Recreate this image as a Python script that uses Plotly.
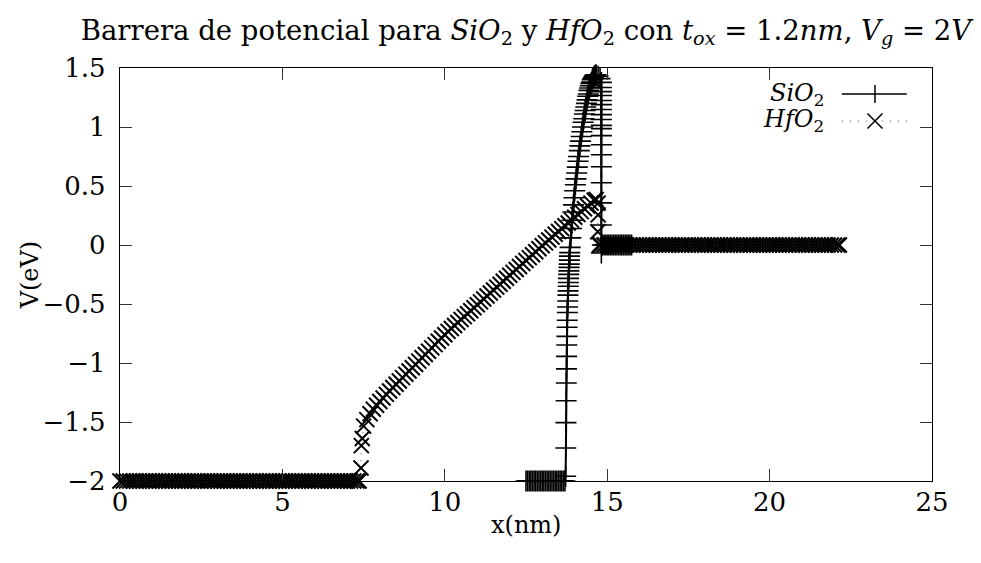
import plotly.graph_objects as go

# ---------------- data ----------------
# SiO2 : substrate plateau, steep band bending, oxide rise, drop at gate, gate plateau
sio2_x_sub = [12.5, 12.55, 12.6, 12.65, 12.7, 12.75, 12.8, 12.85, 12.9, 12.95,
              13.0, 13.05, 13.1, 13.15, 13.2, 13.25, 13.3, 13.35, 13.4, 13.45,
              13.5, 13.55, 13.6, 13.65, 13.7]
sio2_v_sub = [-2, -2, -2, -2, -2, -2, -2, -2, -2, -2,
              -2, -2, -2, -2, -2, -2, -2, -2, -2, -2,
              -2, -2, -2, -2, -2]
sio2_x_bend = [13.72, 13.725, 13.73, 13.735, 13.74, 13.745, 13.75, 13.755, 13.76, 13.765,
               13.77, 13.775, 13.78, 13.785, 13.79, 13.795, 13.8, 13.805, 13.81, 13.815,
               13.82, 13.825, 13.83, 13.835, 13.84, 13.845]
sio2_v_bend = [-1.96, -1.72, -1.505, -1.32, -1.17, -1.05, -0.944, -0.848, -0.774, -0.697,
               -0.638, -0.572, -0.525, -0.474, -0.425, -0.389, -0.349, -0.318, -0.283, -0.249,
               -0.219, -0.19, -0.162, -0.128, -0.094, -0.065]
sio2_x_ox = [13.86, 13.88, 13.9, 13.92, 13.94, 13.96, 13.98, 14.0, 14.02, 14.04,
             14.06, 14.08, 14.1, 14.12, 14.14, 14.16, 14.18, 14.2, 14.22, 14.24,
             14.26, 14.28, 14.3, 14.32, 14.34, 14.36, 14.38, 14.4, 14.42, 14.44,
             14.46, 14.48, 14.5, 14.52, 14.54, 14.56, 14.58, 14.6, 14.62, 14.64,
             14.66]
sio2_v_ox = [-0.02, 0.06, 0.14, 0.21, 0.28, 0.34, 0.4, 0.46, 0.51, 0.56,
             0.61, 0.66, 0.71, 0.75, 0.8, 0.84, 0.88, 0.92, 0.96, 1.0,
             1.04, 1.07, 1.11, 1.14, 1.17, 1.2, 1.23, 1.26, 1.28, 1.31,
             1.33, 1.35, 1.37, 1.38, 1.4, 1.41, 1.42, 1.43, 1.435, 1.44,
             1.44]
sio2_x_drop = [14.72, 14.78, 14.82, 14.82, 14.82, 14.82, 14.82, 14.82, 14.82, 14.82,
               14.82, 14.82, 14.82, 14.82, 14.82, 14.82, 14.82, 14.82, 14.82, 14.82,
               14.82]
sio2_v_drop = [1.43, 1.41, 1.378, 1.335, 1.3, 1.267, 1.225, 1.19, 1.148, 1.105,
               1.063, 1.014, 0.986, 0.927, 0.85, 0.765, 0.663, 0.527, 0.357, 0.17,
               -0.068]
sio2_x_gate = [14.85, 14.9, 14.95, 15.0, 15.05, 15.1, 15.15, 15.2, 15.25, 15.3,
               15.35, 15.4, 15.45, 15.5, 15.55, 15.6, 15.65, 15.7, 15.75]
sio2_v_gate = [0, 0, 0, 0, 0, 0, 0, 0, 0, 0,
               0, 0, 0, 0, 0, 0, 0, 0, 0]

# HfO2
hfo2_x_sub = [0.0, 0.1, 0.2, 0.3, 0.4, 0.5, 0.6, 0.7, 0.8, 0.9,
              1.0, 1.1, 1.2, 1.3, 1.4, 1.5, 1.6, 1.7, 1.8, 1.9,
              2.0, 2.1, 2.2, 2.3, 2.4, 2.5, 2.6, 2.7, 2.8, 2.9,
              3.0, 3.1, 3.2, 3.3, 3.4, 3.5, 3.6, 3.7, 3.8, 3.9,
              4.0, 4.1, 4.2, 4.3, 4.4, 4.5, 4.6, 4.7, 4.8, 4.9,
              5.0, 5.1, 5.2, 5.3, 5.4, 5.5, 5.6, 5.7, 5.8, 5.9,
              6.0, 6.1, 6.2, 6.3, 6.4, 6.5, 6.6, 6.7, 6.8, 6.9,
              7.0, 7.1, 7.2, 7.3, 7.36]
hfo2_v_sub = [-2, -2, -2, -2, -2, -2, -2, -2, -2, -2,
              -2, -2, -2, -2, -2, -2, -2, -2, -2, -2,
              -2, -2, -2, -2, -2, -2, -2, -2, -2, -2,
              -2, -2, -2, -2, -2, -2, -2, -2, -2, -2,
              -2, -2, -2, -2, -2, -2, -2, -2, -2, -2,
              -2, -2, -2, -2, -2, -2, -2, -2, -2, -2,
              -2, -2, -2, -2, -2, -2, -2, -2, -2, -2,
              -2, -2, -2, -2, -2]
hfo2_x_jump = [7.42, 7.43, 7.46]
hfo2_v_jump = [-1.89, -1.7, -1.64]
hfo2_x_ox = [7.5, 7.6, 7.7, 7.8, 7.9, 8.0, 8.1, 8.2, 8.3, 8.4,
             8.5, 8.6, 8.7, 8.8, 8.9, 9.0, 9.1, 9.2, 9.3, 9.4,
             9.5, 9.6, 9.7, 9.8, 9.9, 10.0, 10.1, 10.2, 10.3, 10.4,
             10.5, 10.6, 10.7, 10.8, 10.9, 11.0, 11.1, 11.2, 11.3, 11.4,
             11.5, 11.6, 11.7, 11.8, 11.9, 12.0, 12.1, 12.2, 12.3, 12.4,
             12.5, 12.6, 12.7, 12.8, 12.9, 13.0, 13.1, 13.2, 13.3, 13.4,
             13.5, 13.6, 13.7, 13.8, 13.9, 14.0, 14.1, 14.2, 14.3, 14.4,
             14.5, 14.6, 14.66]
hfo2_v_ox = [-1.535, -1.48, -1.43, -1.392, -1.358, -1.326, -1.296, -1.266, -1.237, -1.208,
             -1.18, -1.152, -1.124, -1.096, -1.068, -1.04, -1.012, -0.984, -0.956, -0.928,
             -0.9, -0.872, -0.844, -0.816, -0.788, -0.76, -0.732, -0.707, -0.682, -0.657,
             -0.632, -0.607, -0.582, -0.557, -0.532, -0.507, -0.482, -0.457, -0.432, -0.407,
             -0.382, -0.357, -0.332, -0.307, -0.282, -0.257, -0.232, -0.207, -0.182, -0.157,
             -0.132, -0.107, -0.082, -0.057, -0.032, -0.007, 0.018, 0.043, 0.067, 0.091,
             0.115, 0.139, 0.163, 0.187, 0.211, 0.235, 0.259, 0.283, 0.307, 0.331,
             0.355, 0.379, 0.385]
hfo2_x_drop = [14.72, 14.72, 14.71]
hfo2_v_drop = [0.355, 0.255, 0.113]
hfo2_x_gate = [14.76, 14.8, 14.9,
               15.0, 15.1, 15.2, 15.3, 15.4, 15.5, 15.6, 15.7, 15.8, 15.9,
               16.0, 16.1, 16.2, 16.3, 16.4, 16.5, 16.6, 16.7, 16.8, 16.9,
               17.0, 17.1, 17.2, 17.3, 17.4, 17.5, 17.6, 17.7, 17.8, 17.9,
               18.0, 18.1, 18.2, 18.3, 18.4, 18.5, 18.6, 18.7, 18.8, 18.9,
               19.0, 19.1, 19.2, 19.3, 19.4, 19.5, 19.6, 19.7, 19.8, 19.9,
               20.0, 20.1, 20.2, 20.3, 20.4, 20.5, 20.6, 20.7, 20.8, 20.9,
               21.0, 21.1, 21.2, 21.3, 21.4, 21.5, 21.6, 21.7, 21.8, 21.9,
               22.0, 22.1, 22.15]
hfo2_v_gate = [0, 0, 0,
               0, 0, 0, 0, 0, 0, 0, 0, 0, 0,
               0, 0, 0, 0, 0, 0, 0, 0, 0, 0,
               0, 0, 0, 0, 0, 0, 0, 0, 0, 0,
               0, 0, 0, 0, 0, 0, 0, 0, 0, 0,
               0, 0, 0, 0, 0, 0, 0, 0, 0, 0,
               0, 0, 0, 0, 0, 0, 0, 0, 0, 0,
               0, 0, 0, 0, 0, 0, 0, 0, 0, 0,
               0, 0, 0]

x_tickvals = [0, 5, 10, 15, 20, 25]
x_ticktext = ["0", "5", "10", "15", "20", "25"]
y_tickvals = [-2, -1.5, -1, -0.5, 0, 0.5, 1, 1.5]
y_ticktext = ["\u22122", "\u22121.5", "\u22121", "\u22120.5", "0", "0.5", "1", "1.5"]

series_names = ["<i>SiO</i><sub>2</sub>", "<i>HfO</i><sub>2</sub>"]
title_text = ("Barrera de potencial para <i>SiO</i><sub>2</sub> y <i>HfO</i><sub>2</sub> con "
              "<i>t</i><sub><i>ox</i></sub> = 1.2<i>nm</i>, <i>V</i><sub><i>g</i></sub> = 2<i>V</i>")
x_title = "x(nm)"
y_title = "V(eV)"

# ---------------- assemble ----------------
sio2_x = sio2_x_sub + sio2_x_bend + sio2_x_ox + sio2_x_drop + sio2_x_gate
sio2_v = sio2_v_sub + sio2_v_bend + sio2_v_ox + sio2_v_drop + sio2_v_gate
hfo2_x = hfo2_x_sub + hfo2_x_jump + hfo2_x_ox + hfo2_x_drop + hfo2_x_gate
hfo2_v = hfo2_v_sub + hfo2_v_jump + hfo2_v_ox + hfo2_v_drop + hfo2_v_gate
assert len(sio2_x) == len(sio2_v)
assert len(hfo2_x) == len(hfo2_v)

FONT = "DejaVu Serif"
FS = 24

fig = go.Figure()
fig.add_trace(go.Scatter(
    x=sio2_x, y=sio2_v, mode="lines+markers", name=series_names[0],
    line=dict(color="black", width=2),
    marker=dict(symbol="cross-thin", size=15, color="black",
                line=dict(color="black", width=1.6)),
    cliponaxis=False, showlegend=False,
))
fig.add_trace(go.Scatter(
    x=hfo2_x, y=hfo2_v, mode="lines+markers", name=series_names[1],
    line=dict(color="#444444", width=1, dash="1px,6px"),
    marker=dict(symbol="x-thin", size=15, color="black",
                line=dict(color="black", width=2)),
    cliponaxis=False, showlegend=False,
))

axis_common = dict(
    showline=True, linecolor="black", linewidth=1.3, mirror="ticks",
    ticks="inside", ticklen=12, tickwidth=1, tickcolor="#333333",
    showgrid=False, zeroline=False,
    tickfont=dict(family=FONT, size=26, color="black"),
)
fig.update_xaxes(range=[0, 25], tickvals=x_tickvals, ticktext=x_ticktext,
                 ticklabelstandoff=-2, **axis_common)
fig.update_yaxes(range=[-2, 1.5], tickvals=y_tickvals, ticktext=y_ticktext,
                 ticklabelstandoff=8, **axis_common)

# legend drawn as key: sample line + marker glyph, label to the left
key_x0, key_x1, key_xc = 0.889, 0.969, 0.9298
key_rows = [0.937, 0.8717]
label_x = 0.869
shapes = [
    # SiO2 key: solid line with "+"
    dict(type="line", xref="paper", yref="paper", x0=key_x0, x1=key_x1,
         y0=key_rows[0], y1=key_rows[0], line=dict(color="black", width=1.5)),
    dict(type="line", xref="paper", yref="paper", xsizemode="pixel", ysizemode="pixel",
         xanchor=key_xc, yanchor=key_rows[0], x0=0, x1=0, y0=-9, y1=9,
         line=dict(color="black", width=1.5)),
    # HfO2 key: dotted line with "x"
    dict(type="line", xref="paper", yref="paper", x0=key_x0, x1=key_x1,
         y0=key_rows[1], y1=key_rows[1], line=dict(color="#555555", width=1, dash="1px,7px")),
    dict(type="line", xref="paper", yref="paper", xsizemode="pixel", ysizemode="pixel",
         xanchor=key_xc, yanchor=key_rows[1], x0=-7.5, x1=7.5, y0=-7.5, y1=7.5,
         line=dict(color="black", width=1.5)),
    dict(type="line", xref="paper", yref="paper", xsizemode="pixel", ysizemode="pixel",
         xanchor=key_xc, yanchor=key_rows[1], x0=-7.5, x1=7.5, y0=7.5, y1=-7.5,
         line=dict(color="black", width=1.5)),
]

fig.update_layout(
    width=981, height=563,
    margin=dict(l=120, r=49, t=68, b=82),
    paper_bgcolor="white", plot_bgcolor="white",
    font=dict(family=FONT, size=FS, color="black"),
    title=dict(text=title_text, x=0.5, xref="paper", xanchor="center",
               y=1 - 30 / 563, yref="container", yanchor="middle",
               font=dict(family=FONT, size=27.5)),
    showlegend=False,
    shapes=shapes,
    annotations=[
        dict(text=series_names[0], xref="paper", yref="paper", x=label_x, y=key_rows[0],
             xanchor="right", yanchor="middle", showarrow=False,
             font=dict(family=FONT, size=FS)),
        dict(text=series_names[1], xref="paper", yref="paper", x=label_x, y=key_rows[1],
             xanchor="right", yanchor="middle", showarrow=False,
             font=dict(family=FONT, size=FS)),
        dict(text=x_title, xref="paper", yref="paper", x=0.5, y=-0.106,
             xanchor="center", yanchor="middle", showarrow=False,
             font=dict(family=FONT, size=FS)),
        dict(text=y_title, xref="paper", yref="paper", x=-0.111, y=0.5, textangle=-90,
             xanchor="center", yanchor="middle", showarrow=False,
             font=dict(family=FONT, size=FS)),
    ],
)

fig.write_html("out.html", config={"displayModeBar": False},
               post_script="document.body.style.margin='0';")
